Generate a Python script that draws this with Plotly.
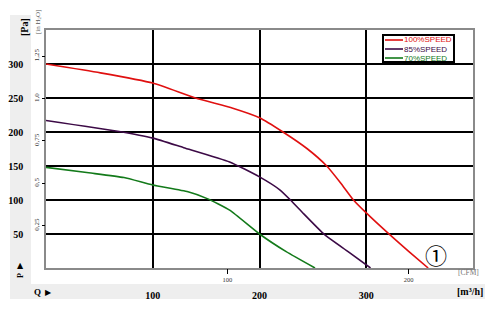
import plotly.graph_objects as go

# ---- data ----
q_red = [0, 51, 100, 140, 175, 200, 222, 245, 263, 276, 288, 300, 322, 340, 358]
p_red = [300, 287, 272, 250, 235, 221, 200, 175, 150, 125, 100, 81, 49, 24, 0]

q_purple = [0, 67, 100, 129, 172, 200, 219, 229, 240, 261, 283, 304]
p_purple = [217, 201, 191, 177, 156, 134, 115, 100, 82, 49, 24, 0]

q_green = [0, 40, 73, 100, 133, 151, 172, 200, 225, 252]
p_green = [148, 140, 133, 122, 112, 102, 85, 50, 24, 0]

series_names = ["100%SPEED", "85%SPEED", "70%SPEED"]
series_colors = ["#e01010", "#3c0a46", "#137a1a"]

pa_ticks = [50, 100, 150, 200, 250, 300]
q_ticks = [100, 200, 300]
inh2o_ticks = [0.25, 0.5, 0.75, 1.0, 1.25]
inh2o_text = ["0,25", "0,5", "0,75", "1,0", "1,25"]
cfm_ticks = [100, 200]

X_MAX = 400
Y_MAX = 350
PA_PER_INH2O = 249.09
M3H_PER_CFM = 1.699

# ---- layout geometry (pixels) ----
W, H = 500, 311
L, R, T, B = 46, 27, 30, 43
pw, ph = W - L - R, H - T - B


def px(xp):
    return (xp - L) / pw


def py(yp):
    return (H - B - yp) / ph


FONT = "Liberation Serif"

fig = go.Figure()
for q, p, name, col in zip([q_red, q_purple, q_green], [p_red, p_purple, p_green],
                           series_names, series_colors):
    fig.add_trace(go.Scatter(x=q, y=p, mode="lines", name=name,
                             line=dict(color=col, width=1.6, shape="spline", smoothing=0.5),
                             showlegend=False, hoverinfo="skip"))

# invisible trace for CFM axis
fig.add_trace(go.Scatter(x=[0, X_MAX / M3H_PER_CFM], y=[None, None], xaxis="x2",
                         showlegend=False, hoverinfo="skip"))
# invisible trace for inH2O axis
fig.add_trace(go.Scatter(x=[None, None], y=[0, Y_MAX / PA_PER_INH2O], yaxis="y2",
                         showlegend=False, hoverinfo="skip"))

shapes = []
# grey side panels
shapes.append(dict(type="rect", xref="paper", yref="paper", x0=px(10), x1=px(31),
                   y0=py(284), y1=py(15), fillcolor="#eeeeee", line=dict(width=0), layer="below"))
shapes.append(dict(type="rect", xref="paper", yref="paper", x0=px(10), x1=px(485),
                   y0=py(299), y1=py(284), fillcolor="#eeeeee", line=dict(width=0), layer="below"))

# manual legend box
lx0, lx1, ly0, ly1 = 383, 454, 35, 62
shapes.append(dict(type="rect", xref="paper", yref="paper", x0=px(lx0), x1=px(lx1),
                   y0=py(ly1), y1=py(ly0), fillcolor="white", line=dict(color="black", width=2)))
annotations = []
for i, (name, col) in enumerate(zip(series_names, series_colors)):
    yy = 40 + i * 9
    shapes.append(dict(type="line", xref="paper", yref="paper", x0=px(385), x1=px(403),
                       y0=py(yy), y1=py(yy), line=dict(color=col, width=1.6)))
    annotations.append(dict(x=px(402), y=py(yy), xref="paper", yref="paper", text=name,
                            showarrow=False, xanchor="left", yanchor="middle",
                            font=dict(family="Arial", size=8, color=col)))

# texts
annotations += [
    dict(x=px(24), y=py(27), text="<b>[Pa]</b>", textangle=-90),
    dict(x=px(38), y=py(22), text="[in H<sub>2</sub>O]", textangle=-90,
         font=dict(size=7, color="#555", family=FONT)),
    dict(x=px(20), y=py(265), text="▲", font=dict(size=8, color="black", family="DejaVu Sans")),
    dict(x=px(20), y=py(276), text="<b>P</b>", textangle=-90,
         font=dict(size=8, color="black", family=FONT)),
    dict(x=px(37), y=py(292), text="<b>Q</b>", font=dict(size=9, color="black", family=FONT)),
    dict(x=px(48), y=py(292), text="▶", font=dict(size=8, color="black", family="DejaVu Sans")),
    dict(x=px(470), y=py(291), text="<b>[m³/h]</b>", font=dict(size=10, color="black", family=FONT)),
    dict(x=px(468), y=py(272), text="[CFM]", font=dict(size=7.5, color="#777", family=FONT)),
    dict(x=px(436), y=py(254), text="①", font=dict(size=22, color="black", family="Noto Sans CJK SC")),
]
for a in annotations:
    a.setdefault("xref", "paper")
    a.setdefault("yref", "paper")
    a.setdefault("showarrow", False)
    a.setdefault("xanchor", "center")
    a.setdefault("yanchor", "middle")
    a.setdefault("font", dict(size=10, color="black", family=FONT))

fig.update_layout(
    width=W, height=H,
    margin=dict(l=L, r=R, t=T, b=B, pad=0, autoexpand=False),
    paper_bgcolor="white", plot_bgcolor="white",
    showlegend=False,
    shapes=shapes, annotations=annotations,
    xaxis=dict(range=[0, X_MAX], tickvals=q_ticks, ticktext=[f"<b>{v}</b>" for v in q_ticks],
               showgrid=True, gridcolor="black", gridwidth=2, zeroline=False,
               showline=True, linecolor="#8a8a8a", linewidth=1.5, mirror=True,
               ticks="", ticklabelstandoff=17, automargin=False,
               tickfont=dict(family=FONT, size=10, color="black"), fixedrange=True),
    yaxis=dict(range=[0, Y_MAX], tickvals=pa_ticks, ticktext=[f"<b>{v}</b>" for v in pa_ticks],
               showgrid=True, gridcolor="black", gridwidth=2, zeroline=False,
               showline=True, linecolor="#8a8a8a", linewidth=1.5, mirror=True,
               ticks="", ticklabelstandoff=19, automargin=False,
               tickfont=dict(family=FONT, size=10, color="black"), fixedrange=True),
    xaxis2=dict(range=[0, X_MAX / M3H_PER_CFM], overlaying="x", side="bottom", anchor="y",
                tickvals=cfm_ticks, ticks="outside", ticklen=5, tickwidth=1.2, tickcolor="black",
                showgrid=False, zeroline=False, showline=False, ticklabelstandoff=0,
                automargin=False,
                tickfont=dict(family=FONT, size=6.5, color="#333"), fixedrange=True),
    yaxis2=dict(range=[0, Y_MAX / PA_PER_INH2O], overlaying="y", side="left", anchor="x",
                tickvals=inh2o_ticks, ticktext=inh2o_text, tickangle=-90,
                ticks="outside", ticklen=3, tickwidth=1.2, tickcolor="black",
                showgrid=False, zeroline=False, showline=False, ticklabelstandoff=0,
                automargin=False,
                tickfont=dict(family=FONT, size=7, color="#333"), fixedrange=True),
)

fig.write_html("out.html")
